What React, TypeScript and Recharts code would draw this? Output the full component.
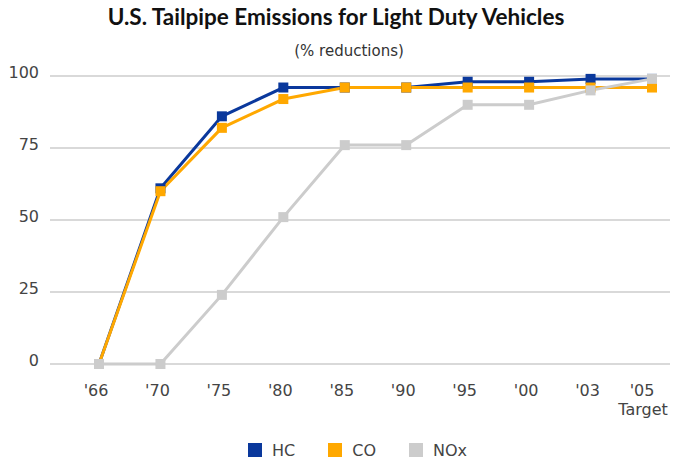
import React from "react";
import { Legend, CartesianGrid, Line, LineChart, XAxis, YAxis } from "recharts";

const years = [ "'66", "'70", "'75", "'80", "'85", "'90", "'95", "'00", "'03", "'05" ];
const hc = [ 0, 61, 86, 96, 96, 96, 98, 98, 99, 99 ];
const co = [ 0, 60, 82, 92, 96, 96, 96, 96, 96, 96 ];
const nox = [ 0, 0, 24, 51, 76, 76, 90, 90, 95, 99 ];
const yTicks = [ 0, 25, 50, 75, 100 ];

const SERIES = [
    { key: "HC", color: "#0a389c" },
    { key: "CO", color: "#ffa800" },
    { key: "NOx", color: "#cccccc" },
];

const data = years.map(( year, i ) => ({ year, HC: hc[i], CO: co[i], NOx: nox[i] }));

const TITLE_FONT = "Lato, sans-serif";
const FONT = "'DejaVu Sans', sans-serif";

const SquareDot = ( { cx, cy, stroke } ) => {
    if ( cx == null || cy == null ) return null;
    return <rect x={cx - 5} y={cy - 5} width={10} height={10} fill={stroke}/>;
};

const XTick = ( { x, y, payload } ) => {
    const last = payload.value === "'05";
    return (
      <g transform={`translate(${x},${y})`}>
          <text x={last ? -10 : -3} y={0} dy={24} textAnchor="middle" fill="#444" fontSize={16} fontFamily={FONT}>
              {payload.value}
          </text>
          {last && (
            <text x={-9} y={0} dy={43} textAnchor="middle" fill="#444" fontSize={16} fontFamily={FONT}>
                Target
            </text>
          )}
      </g>
    );
};

const LegendBox = () => (
  <div style={{ height: 22, display: "flex", alignItems: "center", fontFamily: FONT, fontSize: 16, color: "#444", paddingLeft: 248, boxSizing: "border-box" }}>
      {SERIES.map(s => (
        <div key={s.key} style={{ display: "flex", alignItems: "center", marginRight: 33 }}>
            <span style={{ width: 14, height: 14, background: s.color, display: "inline-block", marginRight: 10 }}/>
            {s.key}
        </div>
      ))}
  </div>
);

export default function App() {
    return (
      <div style={{ position: "absolute", left: 0, top: 0, width: 676, height: 463, background: "#fff" }}>
          <div style={{ position: "absolute", top: 3, left: 0, width: 672, textAlign: "center", fontFamily: TITLE_FONT, fontWeight: 700, fontSize: 22.5, color: "#111" }}>
              U.S. Tailpipe Emissions for Light Duty Vehicles
          </div>
          <div style={{ position: "absolute", top: 42, left: 0, width: 698, textAlign: "center", fontFamily: FONT, fontSize: 15, color: "#333" }}>
              (% reductions)
          </div>
          <LineChart width={676} height={463} data={data} margin={{ top: 76, right: 6, bottom: 2, left: 0 }}>
              <CartesianGrid vertical={false} stroke="#cccccc" strokeWidth={1.5}/>
              <XAxis dataKey="year" axisLine={false} tickLine={false} height={75} padding={{ left: 49, right: 18 }}
                     tick={<XTick/>} interval={0}/>
              <YAxis domain={[ 0, 100 ]} ticks={yTicks} axisLine={false} tickLine={false} width={50} tickMargin={5}
                     tick={{ fill: "#444", fontSize: 16, fontFamily: FONT, dy: -4 }}/>
              <Legend verticalAlign="bottom" content={<LegendBox/>}/>
              {SERIES.map(s => (
                <Line key={s.key} dataKey={s.key} stroke={s.color} strokeWidth={3} type="linear"
                      dot={<SquareDot/>} activeDot={false} isAnimationActive={false}/>
              ))}
          </LineChart>
      </div>
    );
}
